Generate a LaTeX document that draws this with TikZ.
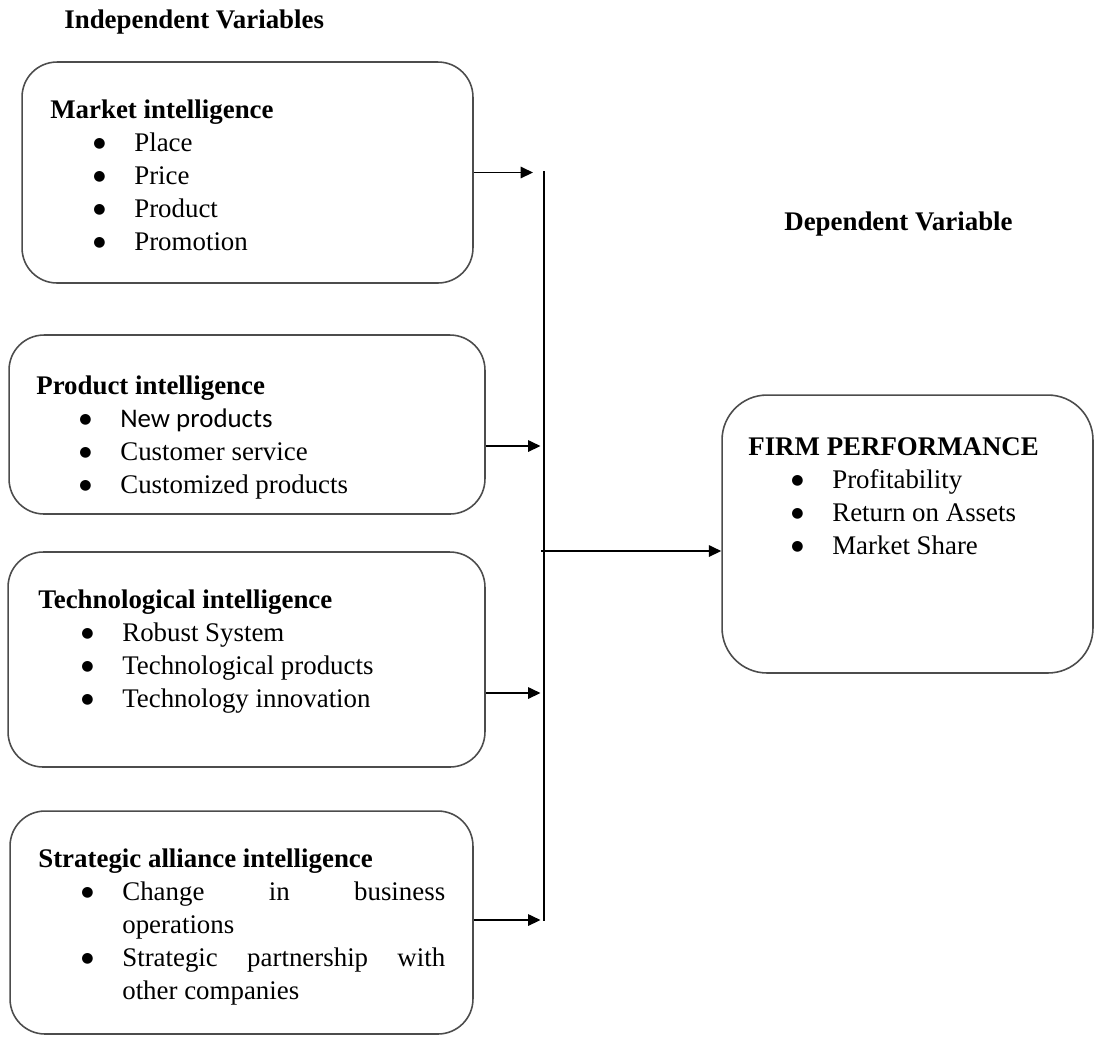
\documentclass[tikz,border=0pt]{standalone}
\usepackage{fontspec}
\setmainfont{Liberation Serif}
\newfontfamily\calibrifont{Carlito}
\newfontfamily\symfont{DejaVu Sans}
\usetikzlibrary{arrows.meta, positioning}
\newcommand{\boxfont}{\fontsize{15.3pt}{18.8pt}\selectfont}
\newcommand{\bmark}{\makebox[0.82cm][l]{\raisebox{1.8pt}{\symfont\fontsize{8pt}{9pt}\selectfont ●}}}
\newcommand{\bitem}[1]{\par\hspace*{0.86cm}\bmark#1}
\newcommand{\witem}[1]{\par\hangindent=1.68cm\hangafter=1\hspace*{0.86cm}\bmark#1}
\tikzset {
  box/.style = {draw=black!70, line width=0.9pt, rounded corners=0.7cm, rectangle, inner sep=0pt},
  bigbox/.style = {box, rounded corners=0.9cm},
  txt/.style = {anchor=base west, inner sep=0pt, font=\boxfont},
  heading/.style = {anchor=base west, inner sep=0pt, font=\boxfont\bfseries},
  line/.style = {-{Triangle[length=7pt,width=6.5pt]}, line width=0.8pt, color=black, shorten >=2pt}
}

\begin{document}
\begin{tikzpicture}[x=0.02cm, y=-0.02cm]
    \useasboundingbox (0,0) rectangle (1094,1036);

    % variable titles
    \node[heading] (indep) at (64,28) {Independent Variables};
    \node[heading] (dep) at (784,230) {Dependent Variable};

    % boxes
    \node[box, minimum width=9.02cm, minimum height=4.42cm] (mkt) at (247.5,172.5) {};
    \node[box, minimum width=9.52cm, minimum height=3.58cm] (prod) at (247,424.5) {};
    \node[box, minimum width=9.54cm, minimum height=4.3cm] (tech) at (246.5,659.5) {};
    \node[box, minimum width=9.26cm, minimum height=4.46cm] (strat) at (241.5,922.5) {};
    \node[bigbox, minimum width=7.42cm, minimum height=5.56cm] (firm) at (907.5,534) {};

    % box texts
    \node[txt] (mkttext) at (50,118) {\parbox[t]{8.5cm}{\textbf{Market intelligence}
      \bitem{Place}\bitem{Price}\bitem{Product}\bitem{Promotion}}};
    \node[txt] (prodtext) at (36,394) {\parbox[t]{9cm}{\textbf{Product intelligence}
      \bitem{{\calibrifont New products}}\bitem{Customer service}\bitem{Customized products}}};
    \node[txt] (techtext) at (38,608) {\parbox[t]{9cm}{\textbf{Technological intelligence}
      \bitem{Robust System}\bitem{Technological products}\bitem{Technology innovation}}};
    \node[txt] (strattext) at (38,867) {\parbox[t]{8.14cm}{\textbf{Strategic alliance intelligence}
      \witem{Change in business\linebreak operations}
      \witem{Strategic partnership with\linebreak other companies}}};
    \node[txt] (firmtext) at (748,455) {\parbox[t]{6.5cm}{\textbf{FIRM PERFORMANCE}
      \bitem{Profitability}\bitem{Return on Assets}\bitem{Market Share}}};

    % collecting line
    \coordinate (bustop) at (544,171);
    \coordinate (busbot) at (544,921);
    \coordinate (j1) at (544,172.5);
    \coordinate (j2) at (544,446);
    \coordinate (j3) at (544,693);
    \coordinate (j4) at (544,920);
    \coordinate (jout) at (541,551);
    \draw[line width=0.85pt] (bustop) -- (busbot);

    \draw[line, shorten >=0.22cm] (mkt.east |- j1) -- (j1);
    \draw[line] (prod.east |- j2) -- (j2);
    \draw[line] (tech.east |- j3) -- (j3);
    \draw[line] (strat.east |- j4) -- (j4);
    \draw[line, shorten >=0pt] (jout) -- (jout -| firm.west);
\end{tikzpicture}
\end{document}
